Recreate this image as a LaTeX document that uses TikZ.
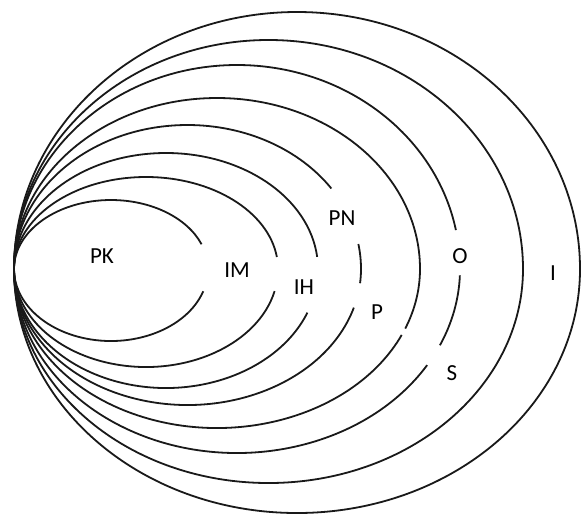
\documentclass[tikz,border=0pt]{standalone}
\usepackage{fontspec}
\setmainfont{Carlito}
\begin{document}
\begin{tikzpicture}[x=0.5pt,y=-0.5pt,
  curve/.style={line width=0.9pt, black!90},
  lbl/.style={font=\fontsize{11.5}{13}\selectfont, text=black, inner sep=0pt}]
\useasboundingbox (0,0) rectangle (582,515);
\fill[white] (0,0) rectangle (582,515);
% curve 1 (PK)
\draw[curve] ([shift={(18:97 and 72)}]111,269) arc[start angle=18,end angle=180,x radius=97,y radius=72]
  arc[start angle=180,end angle=339,x radius=97,y radius=69];
% curve 2 (IM)
\draw[curve] ([shift={(13:132 and 98)}]146,269) arc[start angle=13,end angle=180,x radius=132,y radius=98]
  arc[start angle=180,end angle=352.5,x radius=132,y radius=92];
% curve 3 (IH)
\draw[curve] ([shift={(21.5:152 and 119)}]166,269) arc[start angle=21.5,end angle=180,x radius=152,y radius=119]
  arc[start angle=180,end angle=354,x radius=152,y radius=116];
% curve 4 (PN)
\draw[curve] ([shift={(16.5:173.5 and 136)}]187.5,269) arc[start angle=16.5,end angle=180,x radius=173.5,y radius=136]
  arc[start angle=180,end angle=326,x radius=173.5,y radius=144];
\draw[curve] ([shift={(-10:173.5 and 144)}]187.5,269) arc[start angle=-10,end angle=0,x radius=173.5,y radius=144]
  arc[start angle=0,end angle=6,x radius=173.5,y radius=136];
% curve 5 (P)
\draw[curve] ([shift={(24.5:203 and 159)}]217,269) arc[start angle=24.5,end angle=180,x radius=203,y radius=159]
  arc[start angle=180,end angle=360,x radius=203,y radius=171]
  arc[start angle=0,end angle=22,x radius=203,y radius=159];
% curve 6 (O, S)
\draw[curve] ([shift={(31.5:223 and 184)}]237,269) arc[start angle=31.5,end angle=180,x radius=223,y radius=184]
  arc[start angle=180,end angle=349,x radius=223,y radius=204];
\draw[curve] ([shift={(2:223 and 184)}]237,269) arc[start angle=2,end angle=24.5,x radius=223,y radius=184];
% curve 7
\draw[curve] ([shift={(0:254.5 and 214)}]268.5,269) arc[start angle=0,end angle=180,x radius=254.5,y radius=214]
  arc[start angle=180,end angle=360,x radius=254.5,y radius=229];
% curve 8 (I)
\draw[curve] ([shift={(0:283 and 244)}]297,269) arc[start angle=0,end angle=180,x radius=283,y radius=244]
  arc[start angle=180,end angle=360,x radius=283,y radius=257];
% labels
\node[lbl] (PK) at (102,256) {PK};
\node[lbl] (IM) at (237,270) {IM};
\node[lbl] (IH) at (304,287) {IH};
\node[lbl] (PN) at (342,218) {PN};
\node[lbl] (P) at (377,312) {P};
\node[lbl] (O) at (460,256) {O};
\node[lbl] (S) at (452,373) {S};
\node[lbl] (I) at (553,273) {I};
\end{tikzpicture}
\end{document}
